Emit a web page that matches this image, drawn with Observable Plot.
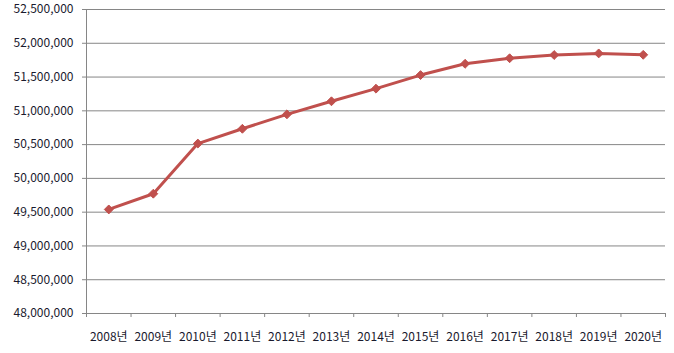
<!DOCTYPE html>
<html>
<head>
<meta charset="utf-8">
<script src="https://cdn.jsdelivr.net/npm/d3@7"></script>
<script src="https://cdn.jsdelivr.net/npm/@observablehq/plot@0.6"></script>
<style>
  html, body { margin: 0; padding: 0; background: #fff; }
  #chart svg { display: block; overflow: visible; }
</style>
</head>
<body>
<div id="chart"></div>
<script>
const years = [2008, 2009, 2010, 2011, 2012, 2013, 2014, 2015, 2016, 2017, 2018, 2019, 2020];
const population = [49540367, 49773145, 50515666, 50734284, 50948272, 51141463, 51327916, 51529338, 51696216, 51778544, 51826059, 51849861, 51829136];
const yTicks = [48000000, 48500000, 49000000, 49500000, 50000000, 50500000, 51000000, 51500000, 52000000, 52500000];
const yearSuffix = "년";

const data = years.map((y, i) => ({year: y, value: population[i]}));
const boundaries = years.map(y => y - 0.5).concat([years[years.length - 1] + 0.5]);

const font = "'Noto Sans CJK KR', 'Noto Sans', sans-serif";
const grid = "#868686";
const red = "#C0504D";

const chart = Plot.plot({
  width: 674,
  height: 353,
  marginLeft: 86,
  marginRight: 9,
  marginTop: 9,
  marginBottom: 40,
  style: {fontFamily: font, fontSize: "12px", color: "#1a1a2e", background: "#fff"},
  x: {domain: [years[0] - 0.5, years[years.length - 1] + 0.5]},
  y: {domain: [48000000, 52500000]},
  marks: [
    Plot.gridY(yTicks, {stroke: grid, strokeOpacity: 1, strokeWidth: 1}),
    Plot.axisY({ticks: yTicks, tickFormat: d3.format(","), tickSize: 4, tickPadding: 9, stroke: grid, label: null, fill: "#1a1a2e"}),
    Plot.axisX({ticks: boundaries, tickFormat: () => "", tickSize: 4, stroke: grid, label: null}),
    Plot.axisX({ticks: years, tickFormat: d => d + yearSuffix, tickSize: 0, tickPadding: 19, label: null, fill: "#1a1a2e"}),
    Plot.ruleY([48000000], {stroke: grid}),
    Plot.ruleX([years[0] - 0.5], {stroke: grid}),
    Plot.line(data, {x: "year", y: "value", stroke: red, strokeWidth: 3}),
    Plot.dot(data, {x: "year", y: "value", symbol: "diamond2", r: 4, fill: red, stroke: red, strokeWidth: 1})
  ]
});
document.getElementById("chart").appendChild(chart);
</script>
</body>
</html>
